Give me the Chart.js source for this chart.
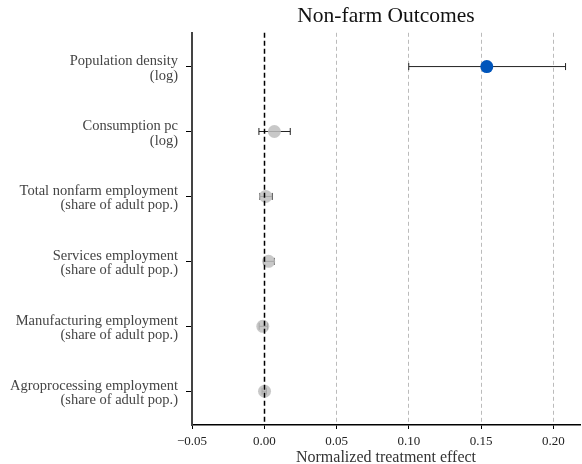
<!DOCTYPE html>
<html>
<head>
<meta charset="utf-8">
<script src="https://cdn.jsdelivr.net/npm/chart.js@4"></script>
<style>
    html, body { margin: 0; padding: 0; background: #fff; }
    #wrap { width: 582px; height: 464px; }
</style>
</head>
<body>
<div id="wrap"><canvas id="outcomesChart"></canvas></div>
<script>
const outcomes = [
    ['Population density', '(log)'],
    ['Consumption pc', '(log)'],
    ['Total nonfarm employment', '(share of adult pop.)'],
    ['Services employment', '(share of adult pop.)'],
    ['Manufacturing employment', '(share of adult pop.)'],
    ['Agroprocessing employment', '(share of adult pop.)'],
];
const estimates = [0.154, 0.007, 0.001, 0.003, -0.001, 0.0002];
const ciLow = [0.100, -0.0037, -0.003, -0.0005, -0.0035, -0.0015];
const ciHigh = [0.2085, 0.018, 0.0055, 0.0069, 0.0022, 0.0015];
const significant = [true, false, false, false, false, false];
const xTicks = [-0.05, 0, 0.05, 0.10, 0.15, 0.20];

const serif = "'Liberation Serif', 'DejaVu Serif', serif";

const errorBars = {
    id: 'errorBars',
    beforeDatasetsDraw(chart) {
        const { ctx, scales: { x, y } } = chart;
        ctx.save();
        ctx.strokeStyle = '#222';
        ctx.lineWidth = 1;
        outcomes.forEach((_, i) => {
            const py = y.getPixelForValue(i);
            const x1 = x.getPixelForValue(ciLow[i]);
            const x2 = x.getPixelForValue(ciHigh[i]);
            ctx.beginPath();
            ctx.moveTo(x1, py);
            ctx.lineTo(x2, py);
            ctx.moveTo(x1, py - 3.5);
            ctx.lineTo(x1, py + 3.5);
            ctx.moveTo(x2, py - 3.5);
            ctx.lineTo(x2, py + 3.5);
            ctx.stroke();
        });
        ctx.restore();
    },
    afterDatasetsDraw(chart) {
        // zero reference line
        const { ctx, chartArea, scales: { x } } = chart;
        const px = Math.round(x.getPixelForValue(0)) + 0.5;
        ctx.save();
        ctx.strokeStyle = '#000';
        ctx.lineWidth = 1.5;
        ctx.setLineDash([5, 3]);
        ctx.beginPath();
        ctx.moveTo(px, chartArea.top);
        ctx.lineTo(px, chartArea.bottom);
        ctx.stroke();
        ctx.restore();
    },
};

const config = {
    type: 'scatter',
    data: {
        datasets: [{
            data: estimates.map((v, i) => ({ x: v, y: i })),
            pointRadius: 6.5,
            pointHoverRadius: 6.5,
            pointBorderWidth: 0,
            pointBackgroundColor: significant.map(s => s ? '#0055bb' : 'rgba(190, 190, 190, 0.85)'),
        }],
    },
    options: {
        responsive: false,
        animation: false,
        layout: { autoPadding: false, padding: { right: 2 } },
        plugins: {
            legend: { display: false },
            tooltip: { enabled: false },
            title: {
                display: true,
                fullSize: false,
                text: 'Non-farm Outcomes',
                color: '#111',
                font: { family: serif, size: 21.5, weight: 'normal' },
                padding: { top: 3, bottom: 4 },
            },
        },
        scales: {
            x: {
                type: 'linear',
                min: -0.05,
                max: 0.2185,
                afterBuildTicks: (scale) => { scale.ticks = xTicks.map(v => ({ value: v })); },
                afterFit: (scale) => { scale.height = 39; },
                ticks: {
                    color: '#222',
                    font: { family: serif, size: 13 },
                    padding: 5,
                    maxRotation: 0,
                    callback: (v) => (v < 0 ? '\u2212' : '') + Math.abs(v).toFixed(2),
                },
                grid: {
                    drawOnChartArea: true,
                    color: (c) => (c.tick && c.tick.value > 0.01) ? '#bbb' : 'rgba(0,0,0,0)',
                    tickColor: '#000',
                    tickLength: 4,
                },
                border: { color: '#000', width: 1.5, dash: [4, 3] },
                title: {
                    display: true,
                    text: 'Normalized treatment effect',
                    color: '#333',
                    font: { family: serif, size: 16 },
                    padding: { top: 0, bottom: -3 },
                },
            },
            y: {
                type: 'linear',
                reverse: true,
                min: -0.52,
                max: 5.52,
                afterBuildTicks: (scale) => { scale.ticks = outcomes.map((_, i) => ({ value: i })); },
                afterFit: (scale) => { scale.width = 192; },
                ticks: {
                    color: '#444',
                    font: { family: serif, size: 14.5, lineHeight: 1.0 },
                    padding: 8,
                    labelOffset: 2,
                    callback: (v) => outcomes[v],
                },
                grid: {
                    drawOnChartArea: false,
                    tickColor: '#000',
                    tickLength: 6,
                },
                border: { color: '#444', width: 2 },
            },
        },
    },
    plugins: [errorBars],
};

document.addEventListener('DOMContentLoaded', () => {
    const $canvas = document.getElementById('outcomesChart');
    $canvas.width = 582;
    $canvas.height = 464;
    new Chart($canvas, config);
});
</script>
</body>
</html>
